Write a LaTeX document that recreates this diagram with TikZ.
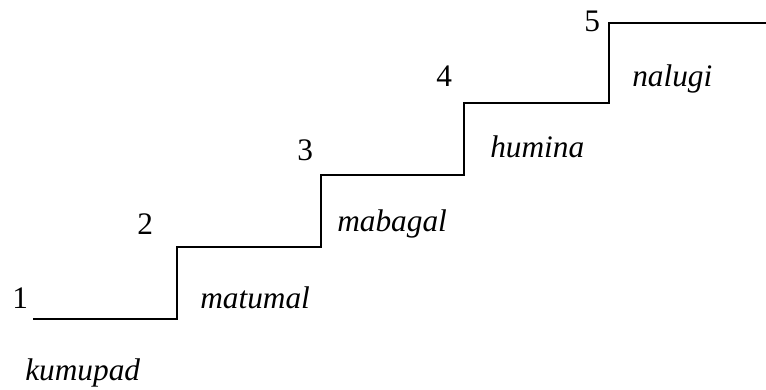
\documentclass[tikz,border=0pt]{standalone}
\usepackage{fontspec}
\setmainfont{Liberation Serif}
\begin{document}
\begin{tikzpicture}[x=0.75pt,y=0.75pt,
  num/.style={anchor=base west,inner sep=0pt,font=\fontsize{23.5}{28}\selectfont},
  word/.style={anchor=base west,inner sep=0pt,font=\fontsize{23.5}{28}\selectfont\itshape}]
\useasboundingbox (0,0) rectangle (766,389);
\draw[line width=1.1pt] (33,70)--(177,70)--(177,142)--(321,142)--(321,214)--(464,214)--(464,286)--(609,286)--(609,366)--(766,366);
\node[num] (n1) at (12,81) {1};
\node[num] (n2) at (137,154) {2};
\node[num] (n3) at (297,228) {3};
\node[num] (n4) at (436,302) {4};
\node[num] (n5) at (584,357) {5};
\node[word] (kumupad) at (25,9) {kumupad};
\node[word] (matumal) at (200,81) {matumal};
\node[word] (mabagal) at (337,157) {mabagal};
\node[word] (humina) at (490,231) {humina};
\node[word] (nalugi) at (632,302) {nalugi};
\end{tikzpicture}
\end{document}
